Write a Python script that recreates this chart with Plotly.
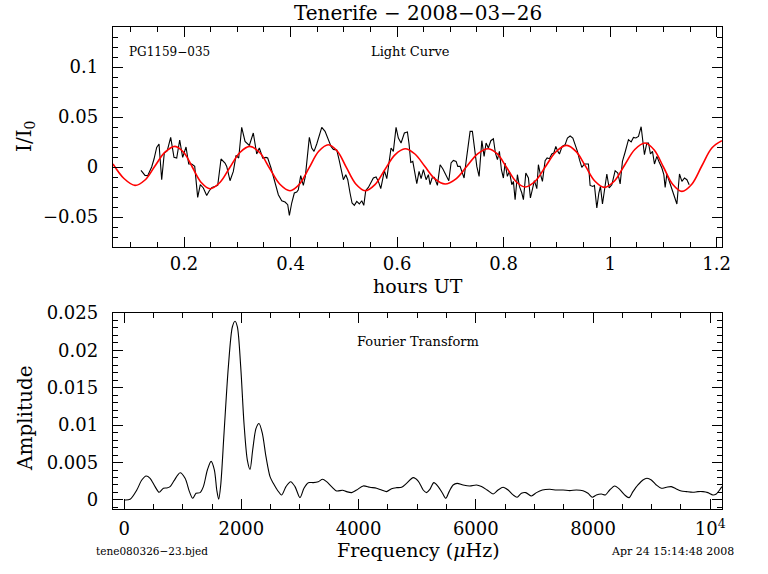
import plotly.graph_objects as go

# ---------------- data ----------------
lc_hours = [0.1192, 0.1268, 0.1318, 0.1393, 0.1437, 0.1487, 0.1531, 0.1581, 0.1630, 0.1686,
            0.1750, 0.1812, 0.1863, 0.1919, 0.1975, 0.2038, 0.2088, 0.2144, 0.2201, 0.2257,
            0.2306, 0.2363, 0.2426, 0.2475, 0.2526, 0.2582, 0.2633, 0.2695, 0.2770, 0.2802,
            0.2864, 0.2926, 0.2977, 0.3027, 0.3083, 0.3146, 0.3226, 0.3301, 0.3365, 0.3414,
            0.3478, 0.3540, 0.3571, 0.3634, 0.3709, 0.3771, 0.3835, 0.3897, 0.3947, 0.3978,
            0.4022, 0.4071, 0.4116, 0.4146, 0.4191, 0.4240, 0.4278, 0.4353, 0.4398, 0.4441,
            0.4492, 0.4535, 0.4586, 0.4648, 0.4710, 0.4761, 0.4804, 0.4868, 0.4911, 0.4962,
            0.4992, 0.5037, 0.5074, 0.5117, 0.5155, 0.5198, 0.5243, 0.5292, 0.5337, 0.5375,
            0.5412, 0.5461, 0.5512, 0.5555, 0.5606, 0.5649, 0.5694, 0.5724, 0.5762, 0.5807,
            0.5844, 0.5887, 0.5930, 0.5981, 0.6024, 0.6075, 0.6137, 0.6194, 0.6225, 0.6257,
            0.6295, 0.6325, 0.6370, 0.6413, 0.6451, 0.6494, 0.6545, 0.6588, 0.6620, 0.6657,
            0.6701, 0.6757, 0.6808, 0.6858, 0.6914, 0.6971, 0.7014, 0.7057, 0.7108, 0.7140,
            0.7183, 0.7215, 0.7258, 0.7296, 0.7339, 0.7371, 0.7414, 0.7446, 0.7497, 0.7540,
            0.7591, 0.7634, 0.7671, 0.7714, 0.7760, 0.7808, 0.7846, 0.7884, 0.7921, 0.7959,
            0.7996, 0.8028, 0.8071, 0.8109, 0.8154, 0.8184, 0.8216, 0.8259, 0.8297, 0.8342,
            0.8372, 0.8417, 0.8466, 0.8503, 0.8541, 0.8578, 0.8624, 0.8653, 0.8685, 0.8729,
            0.8779, 0.8817, 0.8860, 0.8905, 0.8943, 0.8980, 0.9018, 0.9048, 0.9099, 0.9155,
            0.9198, 0.9249, 0.9300, 0.9343, 0.9386, 0.9424, 0.9468, 0.9517, 0.9592, 0.9624,
            0.9675, 0.9705, 0.9750, 0.9788, 0.9818, 0.9856, 0.9893, 0.9938, 0.9981, 1.0032,
            1.0094, 1.0144, 1.0188, 1.0231, 1.0282, 1.0344, 1.0394, 1.0438, 1.0483, 1.0532,
            1.0582, 1.0620, 1.0644, 1.0689, 1.0720, 1.0757, 1.0795, 1.0832, 1.0877, 1.0920,
            1.0971, 1.1008, 1.1033, 1.1065, 1.1108, 1.1159, 1.1208, 1.1253, 1.1302, 1.1347,
            1.1396, 1.1441, 1.1484]
lc_flux = [-0.0034, -0.0084, -0.0087, 0.0000, 0.0080, 0.0196, 0.0230, -0.0127, 0.0140, 0.0163,
           0.0296, 0.0096, 0.0090, 0.0270, 0.0096, 0.0200, 0.0030, 0.0030, 0.0006, -0.0304,
           -0.0177, -0.0210, -0.0284, -0.0237, -0.0204, -0.0194, -0.0184, 0.0080, 0.0040, 0.0006,
           -0.0137, -0.0044, 0.0116, 0.0090, 0.0396, 0.0256, 0.0216, 0.0340, 0.0130, 0.0190,
           0.0090, 0.0096, 0.0090, -0.0010, -0.0160, -0.0277, -0.0337, -0.0350, -0.0377, -0.0484,
           -0.0360, -0.0260, -0.0250, -0.0227, -0.0087, -0.0184, -0.0094, 0.0296, 0.0190, 0.0156,
           0.0230, 0.0316, 0.0396, 0.0356, 0.0273, 0.0206, 0.0176, 0.0170, 0.0073, -0.0050,
           -0.0127, -0.0077, -0.0127, -0.0260, -0.0360, -0.0384, -0.0344, -0.0370, -0.0337, -0.0384,
           -0.0234, -0.0204, -0.0144, -0.0110, -0.0100, -0.0144, -0.0217, -0.0127, -0.0037, -0.0117,
           0.0040, 0.0190, 0.0156, 0.0396, 0.0290, 0.0240, 0.0340, 0.0350, 0.0230, 0.0046,
           0.0056, -0.0027, -0.0167, -0.0044, -0.0117, -0.0027, -0.0127, -0.0077, -0.0177, -0.0110,
           -0.0104, -0.0184, 0.0023, -0.0017, -0.0077, -0.0137, 0.0040, 0.0066, 0.0056, 0.0006,
           0.0006, -0.0037, -0.0110, 0.0056, 0.0240, 0.0356, 0.0356, 0.0223, 0.0006, -0.0094,
           0.0263, 0.0106, 0.0240, 0.0190, 0.0263, 0.0283, 0.0140, 0.0073, 0.0156, -0.0027,
           -0.0110, 0.0040, -0.0094, -0.0044, -0.0177, -0.0144, -0.0327, -0.0077, -0.0194, -0.0260,
           -0.0327, -0.0060, -0.0110, -0.0310, -0.0227, -0.0137, -0.0217, 0.0023, -0.0060, -0.0144,
           0.0063, 0.0090, 0.0083, 0.0130, 0.0140, 0.0206, 0.0156, 0.0130, 0.0206, 0.0223,
           0.0290, 0.0310, 0.0290, 0.0230, 0.0156, 0.0073, -0.0004, 0.0030, 0.0030, -0.0184,
           -0.0194, -0.0184, -0.0410, -0.0260, -0.0194, -0.0370, -0.0227, -0.0070, -0.0210, -0.0177,
           -0.0037, -0.0060, -0.0170, 0.0056, 0.0150, 0.0273, 0.0250, 0.0296, 0.0290, 0.0306,
           0.0403, 0.0240, 0.0123, 0.0240, 0.0240, 0.0130, 0.0156, 0.0030, 0.0106, 0.0050,
           -0.0010, -0.0077, -0.0204, -0.0070, -0.0144, -0.0227, -0.0310, -0.0370, -0.0070, -0.0144,
           -0.0110, -0.0127, -0.0177]

fit_hours = [0.0667, 0.0873, 0.1080, 0.1268, 0.1455, 0.1643, 0.1831, 0.1996, 0.2160, 0.2324,
             0.2488, 0.2674, 0.2860, 0.3050, 0.3239, 0.3425, 0.3610, 0.3800, 0.3991, 0.4170,
             0.4350, 0.4530, 0.4710, 0.4880, 0.5050, 0.5225, 0.5399, 0.5585, 0.5770, 0.5960,
             0.6150, 0.6335, 0.6520, 0.6711, 0.6902, 0.7106, 0.7310, 0.7512, 0.7714, 0.7887,
             0.8060, 0.8232, 0.8404, 0.8597, 0.8790, 0.8988, 0.9187, 0.9363, 0.9540, 0.9716,
             0.9893, 1.0081, 1.0270, 1.0463, 1.0657, 1.0828, 1.1000, 1.1173, 1.1347, 1.1533,
             1.1720, 1.1909, 1.2098]
fit_flux = [0.0030, -0.0115, -0.0184, -0.0130, 0.0010, 0.0148, 0.0206, 0.0145, -0.0005, -0.0155,
            -0.0217, -0.0155, -0.0005, 0.0145, 0.0206, 0.0142, -0.0015, -0.0172, -0.0237, -0.0170,
            -0.0007, 0.0157, 0.0223, 0.0157, -0.0007, -0.0170, -0.0237, -0.0176, -0.0027, 0.0122,
            0.0183, 0.0130, 0.0007, -0.0119, -0.0170, -0.0118, 0.0007, 0.0132, 0.0183, 0.0128,
            -0.0008, -0.0145, -0.0200, -0.0140, 0.0008, 0.0155, 0.0216, 0.0154, 0.0006, -0.0143,
            -0.0204, -0.0140, 0.0018, 0.0175, 0.0240, 0.0170, 0.0000, -0.0172, -0.0244, -0.0172,
            0.0010, 0.0190, 0.0263]

ft_freq = [0, 102, 216, 301, 375, 443, 528, 597, 670, 727,
           784, 852, 955, 1040, 1114, 1170, 1227, 1295, 1352, 1420,
           1483, 1540, 1580, 1614, 1648, 1704, 1778, 1846, 1892, 1932,
           1989, 2045, 2102, 2148, 2193, 2250, 2301, 2358, 2420, 2489,
           2545, 2613, 2688, 2761, 2841, 2915, 3000, 3068, 3142, 3227,
           3312, 3386, 3454, 3539, 3625, 3727, 3795, 3881, 3966, 4079,
           4193, 4307, 4392, 4477, 4562, 4648, 4733, 4818, 4932, 5017,
           5102, 5159, 5216, 5284, 5358, 5432, 5488, 5545, 5613, 5681,
           5783, 5897, 6011, 6097, 6193, 6295, 6380, 6465, 6551, 6636,
           6704, 6778, 6852, 6949, 7034, 7136, 7261, 7375, 7488, 7602,
           7716, 7829, 7914, 7989, 8057, 8142, 8210, 8284, 8369, 8454,
           8539, 8613, 8681, 8766, 8851, 8920, 8994, 9079, 9165, 9250,
           9335, 9420, 9506, 9591, 9704, 9789, 9875, 9960, 10045, 10102,
           10159, 10199]
ft_amp = [0.00000, 0.00009, 0.00133, 0.00267, 0.00320, 0.00289, 0.00178, 0.00102, 0.00156, 0.00160,
          0.00178, 0.00258, 0.00364, 0.00289, 0.00111, 0.00022, 0.00089, 0.00098, 0.00178, 0.00400,
          0.00516, 0.00400, 0.00133, 0.00009, 0.00200, 0.00889, 0.01778, 0.02311, 0.02387, 0.02311,
          0.01778, 0.01022, 0.00533, 0.00409, 0.00667, 0.00956, 0.01022, 0.00889, 0.00578, 0.00311,
          0.00222, 0.00133, 0.00067, 0.00178, 0.00244, 0.00178, 0.00031, 0.00156, 0.00231, 0.00231,
          0.00244, 0.00276, 0.00244, 0.00178, 0.00120, 0.00129, 0.00111, 0.00098, 0.00133, 0.00187,
          0.00169, 0.00156, 0.00133, 0.00111, 0.00151, 0.00164, 0.00169, 0.00222, 0.00298, 0.00253,
          0.00133, 0.00098, 0.00142, 0.00231, 0.00178, 0.00089, 0.00022, 0.00111, 0.00200, 0.00222,
          0.00200, 0.00187, 0.00200, 0.00178, 0.00133, 0.00080, 0.00133, 0.00169, 0.00133, 0.00067,
          0.00036, 0.00089, 0.00098, 0.00053, 0.00098, 0.00133, 0.00142, 0.00133, 0.00133, 0.00124,
          0.00133, 0.00124, 0.00089, 0.00036, 0.00067, 0.00080, 0.00067, 0.00133, 0.00187, 0.00142,
          0.00067, 0.00031, 0.00111, 0.00200, 0.00267, 0.00289, 0.00267, 0.00200, 0.00156, 0.00169,
          0.00178, 0.00147, 0.00120, 0.00111, 0.00102, 0.00111, 0.00111, 0.00098, 0.00067, 0.00080,
          0.00133, 0.00178]

ft_tickvals = [0, 2000, 4000, 6000, 8000, 10000]
ft_ticktext = ["0", "2000", "4000", "6000", "8000", "10<sup>4</sup>"]

# ---------------- figure ----------------
W, H = 768, 574
SERIF = "DejaVu Serif"


def px(x):
    return x / W


def py(y):
    return 1 - y / H


fig = go.Figure()
fig.add_trace(go.Scatter(x=lc_hours, y=lc_flux, mode="lines",
                         line=dict(color="black", width=1.1),
                         xaxis="x", yaxis="y", showlegend=False, hoverinfo="skip"))
fig.add_trace(go.Scatter(x=fit_hours, y=fit_flux, mode="lines",
                         line=dict(color="red", width=1.6, shape="spline", smoothing=1.0),
                         xaxis="x", yaxis="y", showlegend=False, hoverinfo="skip"))
fig.add_trace(go.Scatter(x=ft_freq, y=ft_amp, mode="lines",
                         line=dict(color="black", width=1.1, shape="spline", smoothing=0.8),
                         xaxis="x2", yaxis="y2", showlegend=False, hoverinfo="skip"))

common = dict(showline=True, linecolor="black", linewidth=1.4, mirror="allticks",
              ticks="inside", ticklen=10, tickwidth=1, tickcolor="black",
              showgrid=False, zeroline=False, automargin=False,
              tickfont=dict(family=SERIF, size=18, color="black"))


def minor(d):
    return dict(ticks="inside", ticklen=5, tickwidth=1, tickcolor="black",
                showgrid=False, tickmode="linear", tick0=0, dtick=d)


xdom = [px(113), px(722)]
fig.update_layout(
    width=W, height=H, autosize=False,
    margin=dict(l=0, r=0, t=0, b=0, pad=0, autoexpand=False),
    paper_bgcolor="white", plot_bgcolor="white",
    xaxis=dict(domain=xdom, range=[0.0667, 1.21], anchor="y",
               tickmode="linear", tick0=0, dtick=0.2, minor=minor(0.05),
               ticklabelstandoff=0, **common),
    yaxis=dict(domain=[py(247), py(27)], range=[-0.08, 0.14], anchor="x",
               tickmode="linear", tick0=0, dtick=0.05, minor=minor(0.01),
               ticklabelstandoff=10, **common),
    xaxis2=dict(domain=xdom, range=[-190, 10200], anchor="y2",
                tickmode="array", tickvals=ft_tickvals, ticktext=ft_ticktext,
                minor=minor(500), ticklabelstandoff=3, **common),
    yaxis2=dict(domain=[py(509.3), py(312.7)], range=[-0.00125, 0.02502], anchor="x2",
                tickmode="linear", tick0=0, dtick=0.005, minor=minor(0.001),
                ticklabelstandoff=10, **common),
)

ann = []


def text(x, y, s, size, xanchor="center", angle=0, family=SERIF):
    ann.append(dict(x=px(x), y=py(y), xref="paper", yref="paper", text=s,
                    showarrow=False, xanchor=xanchor, yanchor="middle", textangle=angle,
                    font=dict(family=family, size=size, color="black")))


text(418, 13, "Tenerife \u2212 2008\u221203\u221226", 20)
text(25, 137, "I/I<sub>0</sub>", 20, angle=-90)
text(418, 286, "hours UT", 19)
text(25, 418, "Amplitude", 20, angle=-90)
text(418, 550, "Frequency (<i>\u03bc</i>Hz)", 19)
text(127, 52, "PG1159\u2212035", 12, xanchor="left")
text(410, 51, "Light Curve", 13)
text(418, 341, "Fourier Transform", 13)
text(152, 551, "tene080326\u221223.bjed", 10.5)
text(672, 551, "Apr 24 15:14:48 2008", 11)

fig.update_layout(annotations=ann)
fig.write_html("out.html",
               config={"displayModeBar": False},
               post_script="document.body.style.margin='0';"
                           "document.body.style.overflow='hidden';")
